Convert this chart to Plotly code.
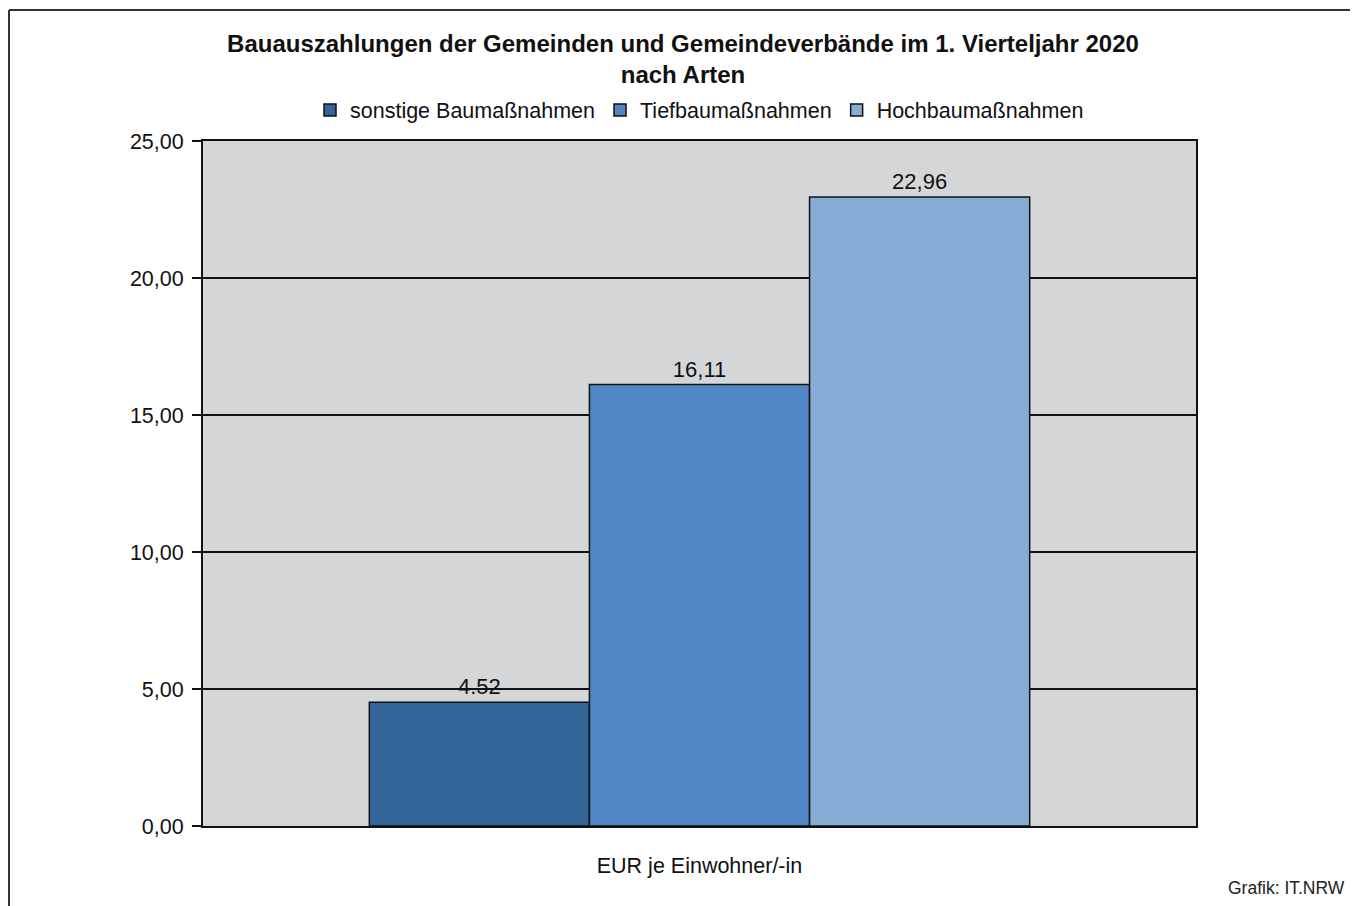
import plotly.graph_objects as go

category = ["EUR je Einwohner/-in"]
series_names = ["sonstige Baumaßnahmen", "Tiefbaumaßnahmen", "Hochbaumaßnahmen"]
series_values = [4.52, 16.11, 22.96]
value_labels = ["4.52", "16,11", "22,96"]
colors = ["#336599", "#5085c6", "#87acd6"]
y_ticks = [0, 5, 10, 15, 20, 25]

FONT = "Liberation Sans, Arial, sans-serif"

fig = go.Figure()
for name, val, lab, col in zip(series_names, series_values, value_labels, colors):
    fig.add_trace(go.Bar(
        x=category, y=[val], name=name,
        marker=dict(color=col, line=dict(color="#111111", width=1.5)),
        text=[lab], textposition="outside", cliponaxis=False,
        textfont=dict(family=FONT, size=22, color="#111111"),
    ))

# page has an 8px body margin; figure coordinates below are relative to the figure
FW, FH = 1350, 898
L, R, T, B = 195, 1188, 133, 818
W, H = R - L, B - T
def px(x):
    return (x - L) / W
def py(y):
    return (B - y) / H

fig.update_layout(
    width=FW, height=FH,
    margin=dict(l=L, r=FW - R, t=T, b=FH - B),
    paper_bgcolor="white", plot_bgcolor="#d5d6d8",
    barmode="group", bargap=0.335, bargroupgap=0,
    separators=",.",
    font=dict(family=FONT, color="#111111"),
    title=dict(
        text="<b>Bauauszahlungen der Gemeinden und Gemeindeverbände im 1. Vierteljahr 2020<br>nach Arten</b>",
        x=0.5, xref="container", xanchor="center",
        y=1 - 44 / FH, yref="container", yanchor="top",
        font=dict(family=FONT, size=24, color="#111111"),
    ),
    legend=dict(
        orientation="h", x=0.5, xanchor="center", y=py(102), yanchor="middle",
        font=dict(family=FONT, size=21.5, color="#111111"),
        itemwidth=30, traceorder="normal", bgcolor="rgba(0,0,0,0)",
    ),
    showlegend=True,
    xaxis=dict(
        showgrid=False, showline=True, linecolor="#111111", linewidth=2, mirror=True,
        ticks="", tickfont=dict(family=FONT, size=21.5, color="#111111"),
        ticklabelstandoff=19, fixedrange=True,
    ),
    yaxis=dict(
        range=[0, 25], tickvals=y_ticks, tickformat=".2f",
        showgrid=True, gridcolor="#111111", gridwidth=1.8,
        showline=True, linecolor="#111111", linewidth=2, mirror=True,
        ticks="outside", ticklen=9, tickcolor="#111111", tickwidth=1.5,
        tickfont=dict(family=FONT, size=21.5, color="#111111"),
        ticklabelstandoff=4,
        zeroline=False, fixedrange=True,
    ),
    shapes=[
        dict(type="line", xref="paper", yref="paper", x0=px(1), x1=px(FW + 5), y0=py(2), y1=py(2),
             line=dict(color="#333333", width=2)),
        dict(type="line", xref="paper", yref="paper", x0=px(1), x1=px(1), y0=py(2), y1=py(FH + 5),
             line=dict(color="#333333", width=2)),
    ],
    annotations=[
        dict(text="Grafik: IT.NRW", xref="paper", yref="paper", x=px(1339), y=py(880),
             xanchor="right", yanchor="middle", showarrow=False,
             font=dict(family=FONT, size=17.5, color="#222222")),
    ],
)

fig.write_html("out.html")
